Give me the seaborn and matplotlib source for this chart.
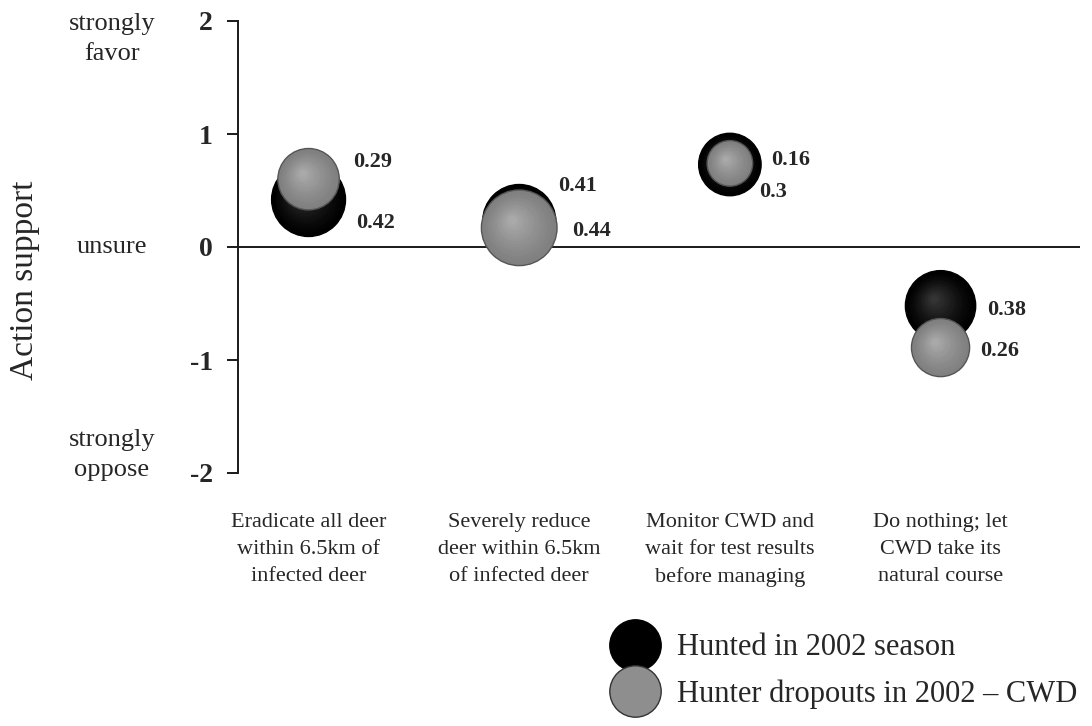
import numpy as np
import pandas as pd
import matplotlib.pyplot as plt
from matplotlib.lines import Line2D
from matplotlib.colors import to_rgb
from matplotlib.transforms import offset_copy
import seaborn as sns

# data
actions = ["Eradicate all deer\nwithin 6.5km of\ninfected deer",
           "Severely reduce\ndeer within 6.5km\nof infected deer",
           "Monitor CWD and\nwait for test results\nbefore managing",
           "Do nothing; let\nCWD take its\nnatural course"]
groups = ["Hunted in 2002 season", "Hunter dropouts in 2002 \u2013 CWD"]
hunted_mean = [0.42, 0.23, 0.73, -0.52]
hunted_sd = [0.42, 0.41, 0.3, 0.38]
dropout_mean = [0.60, 0.17, 0.74, -0.89]
dropout_sd = [0.29, 0.44, 0.16, 0.26]
sd_text = [["0.42", "0.41", "0.3", "0.38"], ["0.29", "0.44", "0.16", "0.26"]]
scale_labels = ["strongly\nfavor", "unsure", "strongly\noppose"]
ytick_labels = ["2", "1", "0", "-1", "-2"]

df = pd.DataFrame({'x': list(range(4)) * 2,
                   'mean': hunted_mean + dropout_mean,
                   'sd': hunted_sd + dropout_sd,
                   'group': [groups[0]] * 4 + [groups[1]] * 4})

sns.set_style('white')
plt.rcParams['font.family'] = ['Liberation Serif', 'DejaVu Serif']

fig = plt.figure(figsize=(10.92, 7.26), dpi=100)
ax = fig.add_axes([238 / 1092, 253 / 726, 842 / 1092, 452 / 726])
ax.set_xlim(-0.335, 3.662)
ax.set_ylim(-2, 2)

ax.axhline(0, color='#1a1a1a', lw=1.4, zorder=1)

S = 6740  # area per unit sd, pt^2
styles = [('#000000', '#000000', '#3c3c3c', 2),
          ('#808080', '#555555', '#b0b0b0', 4)]
for g, (base, edge, light, z) in zip(groups, styles):
    sub = df[df.group == g]
    sns.scatterplot(data=sub, x='x', y='mean', size='sd', sizes=(0, S), size_norm=(0, 1),
                    color=base, edgecolor=edge, linewidth=1, legend=False, ax=ax, zorder=z)
    # fake sphere shading
    b, l = np.array(to_rgb(base)), np.array(to_rgb(light))
    for _, row in sub.iterrows():
        r_pt = np.sqrt(S * row['sd']) / 2
        for f in np.linspace(0.9, 0.12, 14):
            t = (1 - f) ** 1.3
            sh = (1 - f) * r_pt * 0.22
            tr = offset_copy(ax.transData, fig=fig, x=-sh, y=sh, units='points')
            ax.scatter([row['x']], [row['mean']], s=(2 * r_pt * f) ** 2, color=b + (l - b) * t,
                       lw=0, transform=tr, zorder=z + 0.5)

# sd labels next to bubbles (offsets in pixels)
offsets = [[(48, -23), (39, 35), (29, -27), (47, -4)],
           [(45, 17), (53, -3), (41, 3), (40, -3)]]
means = [hunted_mean, dropout_mean]
for gi in range(2):
    for i in range(4):
        ax.annotate(sd_text[gi][i], (i, means[gi][i]), xytext=offsets[gi][i],
                    textcoords='offset pixels', ha='left', va='center',
                    fontsize=16, fontweight='bold', zorder=10)

ax.set_yticks([2, 1, 0, -1, -2], labels=ytick_labels, fontsize=20, fontweight='bold')
ax.set_xticks(range(4), labels=actions, fontsize=16, linespacing=1.55)
ax.tick_params(axis='y', length=8, width=1.4, direction='out', pad=10, left=True, color='#1a1a1a')
ax.tick_params(axis='x', length=0, pad=29)
ax.set_xlabel('')
ax.set_ylabel('')
for s in ['top', 'right', 'bottom']:
    ax.spines[s].set_visible(False)
ax.spines['left'].set_linewidth(1.4)
ax.spines['left'].set_color('#1a1a1a')

for lab, pos in zip(scale_labels, [1.84, 0, -1.84]):
    ax.text(-0.15, pos, lab, transform=ax.get_yaxis_transform(), ha='center', va='center',
            fontsize=19, linespacing=1.45)

fig.text(25 / 1092, 1 - 280 / 726, 'Action support', rotation=90, fontsize=24,
         ha='center', va='center')

handles = [Line2D([], [], ls='none', marker='o', markersize=37,
                  markerfacecolor='black', markeredgecolor='black'),
           Line2D([], [], ls='none', marker='o', markersize=37,
                  markerfacecolor='#8e8e8e', markeredgecolor='#333333')]
fig.legend(handles, groups, loc='center left', bbox_to_anchor=(614 / 1092, 1 - 671 / 726),
           frameon=False, fontsize=22, handlelength=1.4, handletextpad=0.67,
           labelspacing=0.55, borderpad=0, borderaxespad=0)

fig.savefig('out.png', dpi=100)
